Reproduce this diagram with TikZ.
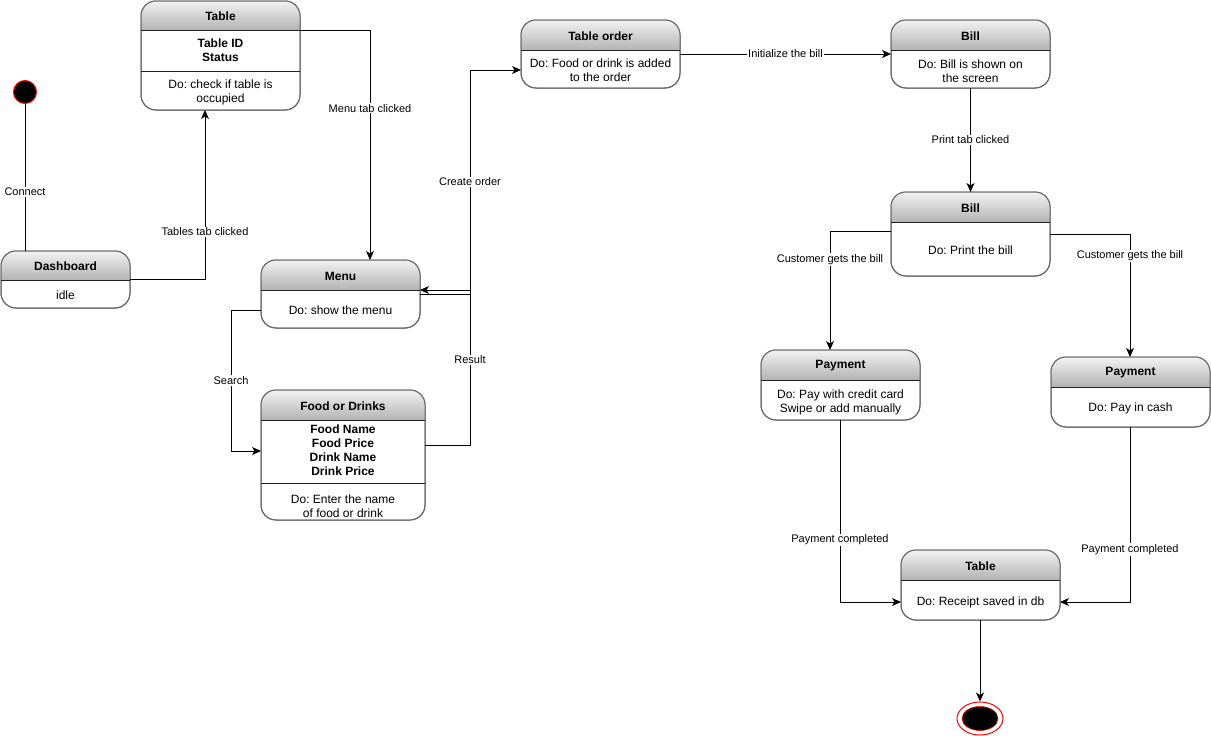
\documentclass[tikz,border=0pt]{standalone}
\usepackage{fontspec}
\setmainfont{Liberation Sans}
\usetikzlibrary{arrows.meta,shapes.geometric}
\frenchspacing

\definecolor{hdtop}{HTML}{F2F2F2}
\definecolor{hdbot}{HTML}{B3B3B3}
\definecolor{edgegray}{HTML}{666666}
\definecolor{seplinecol}{HTML}{222222}
\definecolor{termred}{HTML}{FF0000}

\tikzset{
  sbox/.style={draw=edgegray, line width=1pt, rounded corners=15pt, inner sep=0pt, outer sep=0pt},
  ttl/.style={font=\fontsize{12}{14}\selectfont\bfseries, inner sep=0pt},
  attr/.style={font=\fontsize{12}{14}\selectfont\bfseries, align=center, inner sep=0pt},
  txt/.style={font=\fontsize{12}{14}\selectfont, align=center, inner sep=0pt},
  lbl/.style={font=\fontsize{11}{13}\selectfont, fill=white, inner sep=1pt},
  plain/.style={draw, line width=1pt},
  flow/.style={draw, line width=1pt, -{Stealth[length=9pt,width=8pt,inset=2.5pt]}},
  sepline/.style={draw=seplinecol, line width=1pt},
}

% state box: name, x1, y1, x2, y2, bottom of the shaded header
\newcommand\stbox[6]{%
  \node[sbox, minimum width={#4-#2}, minimum height={#5-#3}] (#1) at ({(#2+#4)/2},{(#3+#5)/2}) {};
  \begin{scope}
    \clip[rounded corners=15pt] (#1.north west) rectangle (#1.south east);
    \shade[top color=hdtop, bottom color=hdbot] (#1.north west) rectangle (#1.east |- 0,#6);
  \end{scope}
  \draw[edgegray, line width=1pt, rounded corners=15pt] (#1.north west) rectangle (#1.south east);
  \draw[sepline] (#1.west |- 0,#6) -- (#1.east |- 0,#6);
}

\begin{document}
\begin{tikzpicture}[x=1pt, y=-1pt]
\useasboundingbox (0,0) rectangle (1211,736);

% initial and final states
\node[circle, fill=black, draw=termred, line width=1pt, minimum size=23pt, inner sep=0pt] (init) at (25,92) {};
\node[ellipse, fill=white, draw=termred, line width=1pt, minimum width=46pt, minimum height=33pt, inner sep=0pt] (fin) at (980,718.5) {};
\node[ellipse, fill=black, draw=termred, line width=0.6pt, minimum width=36pt, minimum height=24pt, inner sep=0pt] (finin) at (980,718.5) {};

% Dashboard
\stbox{dash}{1}{251}{130}{308}{280}
\node[ttl] (dashT) at (65.5,266) {Dashboard};
\node[txt] (dashB) at (65.5,295) {idle};

% Table
\stbox{tbl}{141}{1}{300}{110}{30}
\draw[sepline] (tbl.west |- 0,71) -- (tbl.east |- 0,71);
\node[ttl] (tblT) at (220.5,16) {Table};
\node[attr] (tblA) at (220.5,50.5) {Table ID\\Status};
\node[txt] (tblB) at (220.5,92.5) {Do: check if table is\\occupied};

% Menu
\stbox{menu}{261}{260}{420}{328}{290}
\node[ttl] (menuT) at (340.5,276) {Menu};
\node[txt] (menuB) at (340.5,310.5) {Do: show the menu};

% Food or Drinks
\stbox{food}{261}{390}{425}{520}{420}
\draw[sepline] (food.west |- 0,483) -- (food.east |- 0,483);
\node[ttl] (foodT) at (343,406) {Food or Drinks};
\node[attr] (foodA) at (343,450) {Food Name\\Food Price\\Drink Name\\Drink Price};
\node[txt] (foodB) at (343,506) {Do: Enter the name\\of food or drink};

% Table order
\stbox{tord}{521}{20}{680}{88}{50}
\node[ttl] (tordT) at (600.5,36) {Table order};
\node[txt] (tordB) at (600.5,70) {Do: Food or drink is added\\to the order};

% Bill (shown)
\stbox{billa}{891}{20}{1050}{88}{50}
\node[ttl] (billaT) at (970.5,36) {Bill};
\node[txt] (billaB) at (970.5,71) {Do: Bill is shown on\\the screen};

% Bill (print)
\stbox{billb}{891}{192}{1050}{276}{222}
\node[ttl] (billbT) at (970.5,208) {Bill};
\node[txt] (billbB) at (970.5,250.5) {Do: Print the bill};

% Payment by card
\stbox{paya}{761}{350}{920}{420}{380}
\node[ttl] (payaT) at (840.5,366) {Payment};
\node[txt] (payaB) at (840.5,402) {Do: Pay with credit card\\Swipe or add manually};

% Payment in cash
\stbox{payb}{1051}{357}{1210}{427}{387}
\node[ttl] (paybT) at (1130.5,373) {Payment};
\node[txt] (paybB) at (1130.5,408.5) {Do: Pay in cash};

% Table (receipt)
\stbox{tabf}{901}{550}{1060}{620}{580}
\node[ttl] (tabfT) at (980.5,566) {Table};
\node[txt] (tabfB) at (980.5,602) {Do: Receipt saved in db};

% transitions
\draw[plain] (init.south) -- node[lbl, pos=0.6] {Connect} (dash.north -| init.south);
\draw[flow] (dash.east) -| node[lbl, pos=0.64] {Tables tab clicked} (tbl.south -| 205,0);
\draw[flow] (tbl.east |- 0,30) -| node[lbl, pos=0.67] {Menu tab clicked} (menu.north -| 370,0);
\draw[flow] (menu.west |- 0,310) -- (231,310) -- node[lbl] {Search} (231,451) -- (food.west |- 0,451);
\draw[flow] (food.east |- 0,445) -- (470,445) -- node[lbl, pos=0.55] {Result} (470,290) -- (menu.east |- 0,290);
\draw[flow] (menu.east |- 0,294) -- (470,294) -- node[lbl, pos=0.5] {Create order} (470,70) -- (tord.west |- 0,70);
\draw[flow] (tord.east |- 0,54) -- node[lbl] {Initialize the bill} (billa.west |- 0,54);
\draw[flow] (billa.south) -- node[lbl] {Print tab clicked} (billb.north);
\draw[flow] (billb.west |- 0,231) -| node[lbl, pos=0.62] {Customer gets the bill} (paya.north -| 830,0);
\draw[flow] (billb.east |- 0,234) -| node[lbl, pos=0.59] {Customer gets the bill} (payb.north -| 1130,0);
\draw[flow] (paya.south -| 840,0) |- node[lbl, pos=0.33] {Payment completed} (tabf.west |- 0,602);
\draw[flow] (payb.south -| 1130,0) |- node[lbl, pos=0.35] {Payment completed} (tabf.east |- 0,602);
\draw[flow] (tabf.south -| fin.north) -- (fin.north);
\end{tikzpicture}
\end{document}
